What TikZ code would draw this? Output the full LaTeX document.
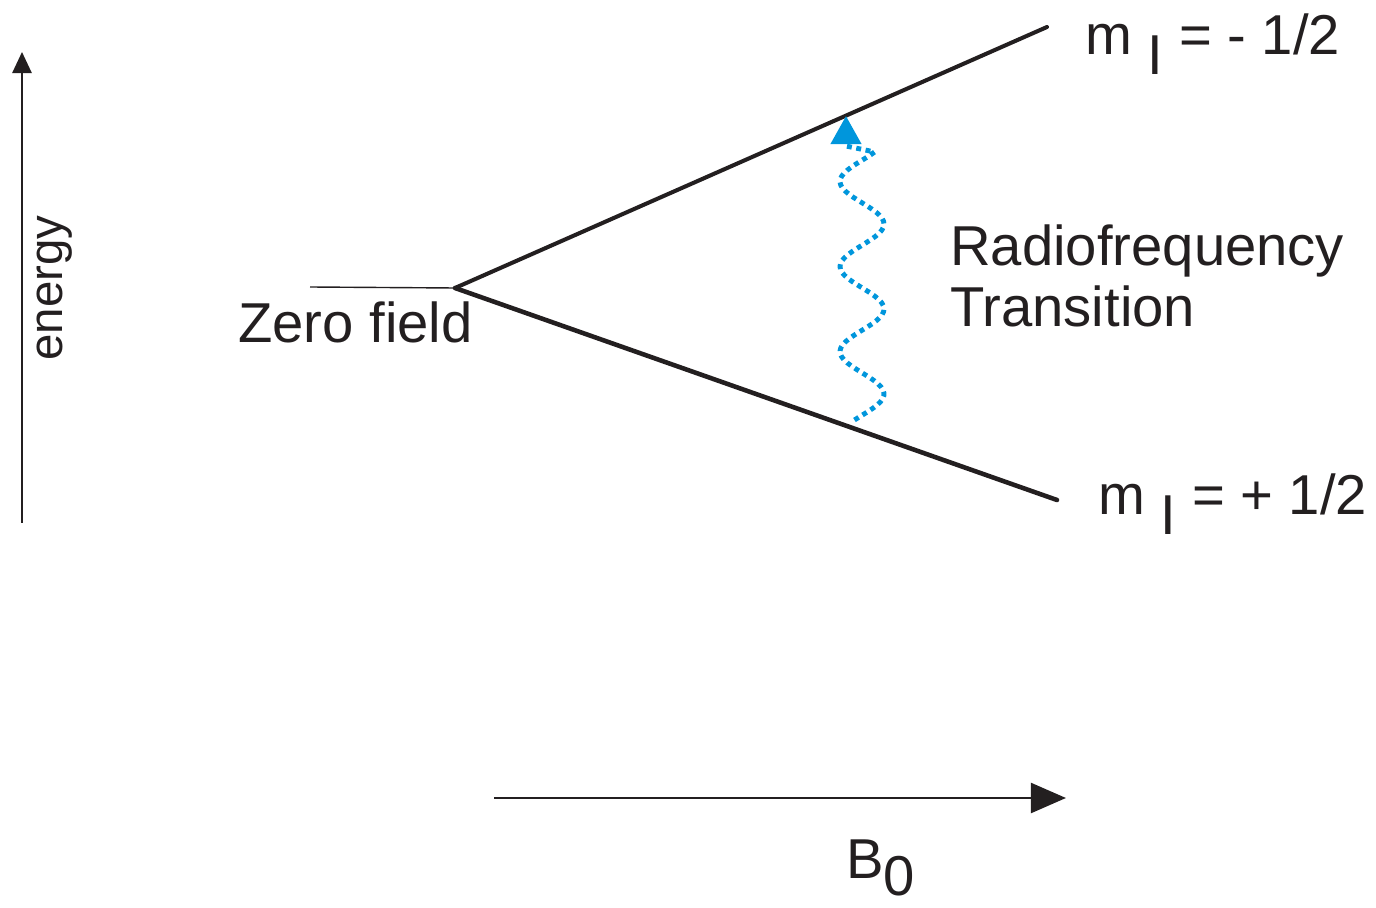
\documentclass[tikz,border=0pt]{standalone}
\usepackage{fontspec}
\setmainfont{Liberation Sans}
\usetikzlibrary{arrows.meta}
\definecolor{ink}{RGB}{35,31,32}
\definecolor{rfblue}{RGB}{0,150,220}
\tikzset{
  level/.style={ink, line width=2pt, line cap=round},
  axis/.style={ink, line width=1pt},
  rfwave/.style={rfblue, line width=2.8pt, dash pattern=on 2.8pt off 2.6pt},
  lbl/.style={inner sep=0pt, text=ink, font=\fontsize{32}{36}\selectfont}
}
\begin{document}
\begin{tikzpicture}[x=0.02cm, y=-0.02cm, line join=round]
			\useasboundingbox (0,0) rectangle (1376,908);
			% Punkte der Niveaus
			\coordinate (zero) at (455,288);
			\coordinate (zeroL) at (310,287);
			\coordinate (upE) at (1047,27);
			\coordinate (loE) at (1057,500);
			% Energieachse
			\coordinate (eA) at (22,523);
			\coordinate (eB) at (22,52);
			\draw[axis, -{Triangle[length=12pt,width=11pt]}] (eA) -- (eB);
			\node[lbl, rotate=90, font=\fontsize{27}{30}\selectfont] (energy) at (55,288) {energy};
			% Feldachse B0
			\coordinate (bA) at (494,798);
			\coordinate (bB) at (1066,798);
			\draw[ink, line width=1.7pt, -{Triangle[length=20pt,width=17pt]}] (bA) -- (bB);
			\node[lbl, anchor=base west] (bnull) at (846,878) {B\raisebox{-10pt}{0}};
			% Nullfeld und Aufspaltung
			\draw[ink, line width=0.8pt] (zeroL) -- (zero);
			\draw[level, line width=2.3pt] (zero) -- (upE);
			\draw[level, line width=2.6pt] (zero) -- (loE);
			\node[lbl, anchor=base west] (zfield) at (238,343) {Zero field};
			\node[lbl, anchor=base west] (mminus) at (1085,55) {m \raisebox{-11pt}{I} = - 1/2};
			\node[lbl, anchor=base west] (mplus) at (1098,515) {m \raisebox{-11pt}{I} = + 1/2};
			% Uebergang
			\coordinate (tip) at (846,116);
			\draw[rfwave, -{Triangle[length=16pt,width=17pt]}]
			plot[variable=\t, domain=420:152, samples=90] ({862+22*sin(-20+(420-\t)/85*360)}, \t)
			-- (846,146) -- (tip);
			\node[lbl, anchor=base west, align=left] (rf) at (950,327) {Radiofrequency\\[-1pt]Transition};
		\end{tikzpicture}
\end{document}
